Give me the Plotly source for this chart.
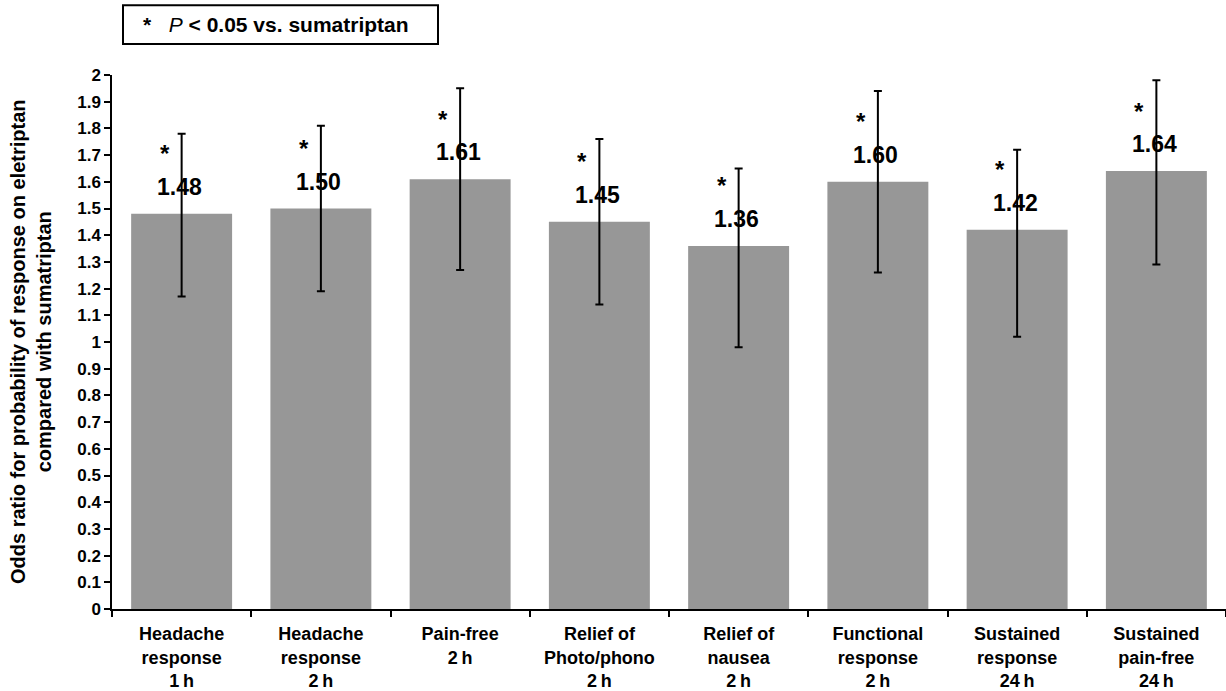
import plotly.graph_objects as go

# Outcome categories (x axis)
categories = [
    "Headache<br>response<br>1\u2009h",
    "Headache<br>response<br>2\u2009h",
    "Pain-free<br>2\u2009h",
    "Relief of<br>Photo/phono<br>2\u2009h",
    "Relief of<br>nausea<br>2\u2009h",
    "Functional<br>response<br>2\u2009h",
    "Sustained<br>response<br>24\u2009h",
    "Sustained<br>pain-free<br>24\u2009h",
]

# Odds ratios with 95% confidence limits
odds_ratio = [1.48, 1.50, 1.61, 1.45, 1.36, 1.60, 1.42, 1.64]
ci_lower = [1.17, 1.19, 1.27, 1.14, 0.98, 1.26, 1.02, 1.29]
ci_upper = [1.78, 1.81, 1.95, 1.76, 1.65, 1.94, 1.72, 1.98]
significant = [True, True, True, True, True, True, True, True]

y_ticks = [round(i * 0.1, 1) for i in range(21)]
y_ticktext = [f"{v:g}" for v in y_ticks]

FONT = "Liberation Sans, Arial, Helvetica, sans-serif"
W, H = 1226, 691
M_L, M_R, M_T, M_B = 112, 0, 75, 80
plot_h = H - M_T - M_B
plot_w = W - M_L - M_R


def px_to_paper_x(px):
    return (px - M_L) / plot_w


def px_to_paper_y(py):
    return (H - M_B - py) / plot_h


err_plus = [u - v for u, v in zip(ci_upper, odds_ratio)]
err_minus = [v - l for v, l in zip(odds_ratio, ci_lower)]

fig = go.Figure()
fig.add_trace(
    go.Bar(
        x=categories,
        y=odds_ratio,
        marker=dict(color="#979797", line=dict(width=0)),
        error_y=dict(
            type="data",
            symmetric=False,
            array=err_plus,
            arrayminus=err_minus,
            color="black",
            thickness=2,
            width=4,
        ),
        hoverinfo="skip",
    )
)

annotations = []
for cat, val, sig in zip(categories, odds_ratio, significant):
    annotations.append(
        dict(
            x=cat, y=val, xref="x", yref="y",
            text=f"<b>{val:.2f}</b>",
            showarrow=False, xanchor="center", yanchor="middle",
            xshift=-2, yshift=27,
            font=dict(family=FONT, size=23, color="black"),
        )
    )
    if sig:
        annotations.append(
            dict(
                x=cat, y=val, xref="x", yref="y",
                text="<b>*</b>",
                showarrow=False, xanchor="center", yanchor="middle",
                xshift=-17, yshift=60,
                font=dict(family=FONT, size=24, color="black"),
            )
        )

# Y-axis title (two lines)
annotations.append(
    dict(
        x=px_to_paper_x(31), y=px_to_paper_y(343), xref="paper", yref="paper",
        text="<b>Odds ratio for probability of response on eletriptan<br>compared with sumatriptan</b>",
        textangle=-90, showarrow=False, xanchor="center", yanchor="middle",
        font=dict(family=FONT, size=20, color="black"),
    )
)

# Significance key
annotations.append(
    dict(
        x=px_to_paper_x(276), y=px_to_paper_y(24), xref="paper", yref="paper",
        text="<b>*</b>\u00a0\u00a0\u00a0<i>P</i><b> < 0.05 vs. sumatriptan</b>",
        showarrow=False, xanchor="center", yanchor="middle",
        font=dict(family=FONT, size=21, color="black"),
    )
)

shapes = [
    dict(
        type="rect", xref="paper", yref="paper",
        x0=px_to_paper_x(123), x1=px_to_paper_x(438),
        y0=px_to_paper_y(44), y1=px_to_paper_y(5),
        line=dict(color="black", width=2), fillcolor="white",
    )
]

fig.update_layout(
    width=W, height=H,
    margin=dict(l=M_L, r=M_R, t=M_T, b=M_B, pad=0),
    paper_bgcolor="white", plot_bgcolor="white",
    bargap=0.275,
    showlegend=False,
    annotations=annotations,
    shapes=shapes,
    font=dict(family=FONT, color="black"),
    xaxis=dict(
        type="category",
        showline=True, linecolor="black", linewidth=1.5,
        ticks="outside", tickson="boundaries", ticklen=6, tickwidth=1.5, tickcolor="black",
        tickfont=dict(family=FONT, size=18, color="black", weight="bold"),
        showgrid=False, zeroline=False,
        ticklabelstandoff=8,
    ),
    yaxis=dict(
        range=[0, 2],
        tickmode="array", tickvals=y_ticks, ticktext=y_ticktext,
        showline=True, linecolor="black", linewidth=1.5,
        ticks="outside", ticklen=6, tickwidth=1.5, tickcolor="black",
        tickfont=dict(family=FONT, size=17, color="black", weight="bold"),
        showgrid=False, zeroline=False,
    ),
)

fig.write_html("out.html")
